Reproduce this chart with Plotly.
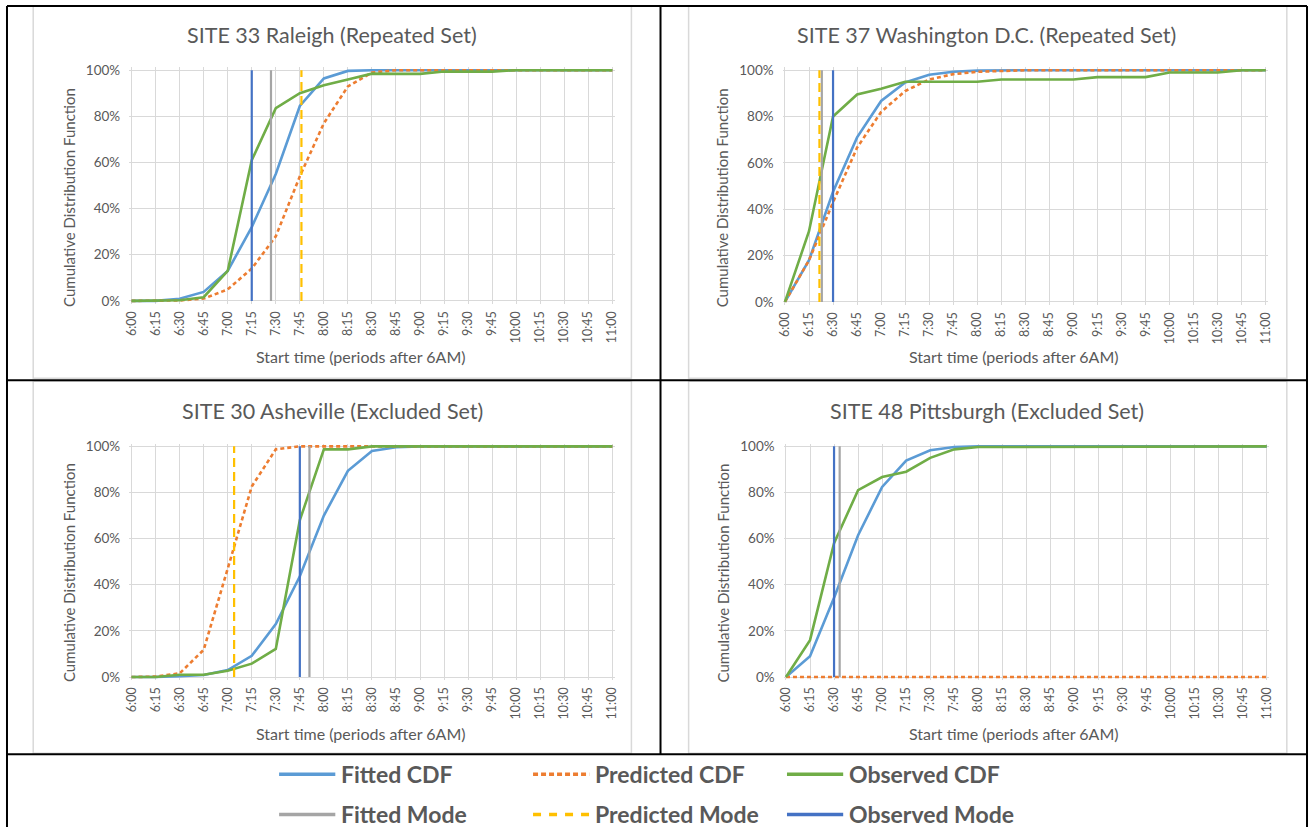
import plotly.graph_objects as go

# ---------------- data ----------------
time_labels = ["6:00", "6:15", "6:30", "6:45", "7:00", "7:15", "7:30", "7:45", "8:00", "8:15",
               "8:30", "8:45", "9:00", "9:15", "9:30", "9:45", "10:00", "10:15", "10:30", "10:45", "11:00"]
y_tick_vals = [0, 0.2, 0.4, 0.6, 0.8, 1.0]

titles = ["SITE 33 Raleigh (Repeated Set)", "SITE 37 Washington D.C. (Repeated Set)",
          "SITE 30 Asheville (Excluded Set)", "SITE 48 Pittsburgh (Excluded Set)"]

# CDF values in percent, one value per time label
raleigh_fitted = [0, 0, 0.9, 3.9, 13, 32, 55, 84.5, 96.4, 99.7, 100, 100, 100, 100, 100, 100, 100, 100, 100, 100, 100]
raleigh_predicted = [0, 0, 0.2, 1, 5, 14, 28, 54, 77, 93, 99, 100, 100, 100, 100, 100, 100, 100, 100, 100, 100]
raleigh_observed = [0, 0, 0.3, 1.6, 13, 61, 83.5, 90, 93.5, 96, 98.5, 98.4, 98.4, 99.4, 99.4, 99.4, 100, 100, 100, 100, 100]

washington_fitted = [0, 18, 47.5, 71, 86.7, 94.7, 98, 99.3, 99.8, 100, 100, 100, 100, 100, 100, 100, 100, 100, 100, 100, 100]
washington_predicted = [0, 18, 43, 66.6, 82, 91, 96, 98.3, 99.3, 99.7, 100, 100, 100, 100, 100, 100, 100, 100, 100, 100, 100]
washington_observed = [0, 30.5, 80, 89.5, 92, 95, 95, 95, 95, 96, 96, 96, 96, 97, 97, 97, 99, 99, 99, 100, 100]

asheville_fitted = [0, 0, 0.4, 0.9, 3, 9.2, 23, 43.7, 70, 89.4, 98, 99.6, 100, 100, 100, 100, 100, 100, 100, 100, 100]
asheville_predicted = [0, 0.2, 1.6, 11.8, 47, 82.6, 98.7, 100, 100, 100, 100, 100, 100, 100, 100, 100, 100, 100, 100, 100, 100]
asheville_observed = [0, 0, 1, 1, 2.7, 5.8, 12.2, 68, 98.7, 98.7, 100, 100, 100, 100, 100, 100, 100, 100, 100, 100, 100]

pittsburgh_fitted = [0, 9, 34.4, 61.5, 82.4, 93.8, 98.3, 99.7, 100, 100, 100, 100, 100, 100, 100, 100, 100, 100, 100, 100, 100]
pittsburgh_predicted = [0, 0, 0, 0, 0, 0, 0, 0, 0, 0, 0, 0, 0, 0, 0, 0, 0, 0, 0, 0, 0]
pittsburgh_observed = [0, 16, 58, 81, 86.7, 89, 95, 98.7, 99.7, 99.7, 99.7, 99.7, 99.7, 99.7, 99.7, 100, 100, 100, 100, 100, 100]

# modes, minutes after 6AM (None = not shown)
fitted_modes = [87, 23, 111, 33.5]
predicted_modes = [106, 21.5, 64, None]
observed_modes = [75, 30, 105, 30]

fitted_cdfs = [raleigh_fitted, washington_fitted, asheville_fitted, pittsburgh_fitted]
predicted_cdfs = [raleigh_predicted, washington_predicted, asheville_predicted, pittsburgh_predicted]
observed_cdfs = [raleigh_observed, washington_observed, asheville_observed, pittsburgh_observed]

series_names = ["Fitted CDF", "Predicted CDF", "Observed CDF", "Fitted Mode", "Predicted Mode", "Observed Mode"]

# ---------------- styles ----------------
W, H = 1313, 833
# the photographed page includes the browser body margin; map target window pixels to figure pixels
MARGIN = 8
KX = (W + 2 * MARGIN) / W

FONT = "Lato, 'Open Sans', sans-serif"
TXT = "#595959"
GRID = "#d9d9d9"
C_FIT, C_PRED, C_OBS = "#5B9BD5", "#ED7D31", "#70AD47"
C_FMODE, C_PMODE, C_OMODE = "#A5A5A5", "#FFC000", "#4472C4"
styles = [
    dict(color=C_FIT, width=2.6, dash="solid"),
    dict(color=C_PRED, width=2.6, dash="4px,3px"),
    dict(color=C_OBS, width=2.6, dash="solid"),
    dict(color=C_FMODE, width=2.2, dash="solid"),
    dict(color=C_PMODE, width=2.2, dash="9px,5px"),
    dict(color=C_OMODE, width=2.2, dash="solid"),
]

minutes = [int(t.split(":")[0]) * 60 + int(t.split(":")[1]) - 360 for t in time_labels]

# plot areas in window pixels: (x of 6:00, x of 11:00, y of 100%, y of 0%)
areas = [(133, 612, 71, 301), (784, 1263, 71, 302), (133, 612, 446, 676), (785, 1264, 446, 676)]
title_pos = [(333, 36), (985, 36), (333, 411), (985, 411)]
ytitle_pos = [(70, 198), (721, 198), (70, 572), (722, 572)]
xtitle_pos = [(362, 356), (1012, 356), (362, 732), (1012, 732)]
boxes = [(35, 6, 631, 378), (688, 6, 1284, 378), (35, 381, 631, 752), (688, 381, 1284, 752)]

fig = go.Figure()
layout = dict(width=W, height=H, margin=dict(l=0, r=0, t=0, b=0), paper_bgcolor="white",
              plot_bgcolor="white", showlegend=False, font=dict(family=FONT, color=TXT))
shapes, annotations = [], []

YPAD = 0.012
XPAD = 1.5


def fx(x):
    return x * KX - MARGIN


def fy(y):
    return (y - 6) / 0.985


def px(x):
    return min(max(fx(x), 1.0), W - 1.0) / W


def py(y):
    return 1 - min(max(fy(y), 1.0), H - 1.0) / H


for i in range(4):
    n = "" if i == 0 else str(i + 1)
    x0, x1, yt, yb = areas[i]
    sx = (x1 - x0) / 300.0
    sy = (yb - yt) / 1.0
    layout["xaxis" + n] = dict(
        domain=[px(x0 - XPAD * sx), px(x1 + XPAD * sx)], range=[-XPAD, 300 + XPAD], anchor="y" + n,
        tickmode="array", tickvals=minutes, ticktext=time_labels, tickangle=-90,
        tickfont=dict(size=12.5, color=TXT, family=FONT), showgrid=True, gridcolor=GRID, gridwidth=1,
        zeroline=False, showline=False, ticks="", ticklabelstandoff=4, fixedrange=True)
    layout["yaxis" + n] = dict(
        domain=[py(yb + YPAD * sy), py(yt - YPAD * sy)], range=[-YPAD, 1 + YPAD], anchor="x" + n,
        tickmode="array", tickvals=y_tick_vals, tickformat=".0%",
        tickfont=dict(size=13.5, color=TXT, family=FONT), showgrid=True, gridcolor=GRID, gridwidth=1,
        zeroline=False, showline=False, ticks="", ticklabelstandoff=8, fixedrange=True)

    xa, ya = "x" + n, "y" + n
    cdfs = [fitted_cdfs[i], predicted_cdfs[i], observed_cdfs[i]]
    for k, vals in enumerate(cdfs):
        fig.add_trace(go.Scatter(x=minutes, y=[v / 100 for v in vals], mode="lines",
                                 line=styles[k], name=series_names[k], xaxis=xa, yaxis=ya,
                                 hoverinfo="skip"))
    modes = [fitted_modes[i], predicted_modes[i], observed_modes[i]]
    for k, m in enumerate(modes):
        if m is None:
            continue
        fig.add_trace(go.Scatter(x=[m, m], y=[0, 1], mode="lines", line=styles[3 + k],
                                 name=series_names[3 + k], xaxis=xa, yaxis=ya, hoverinfo="skip"))

    tx, ty = title_pos[i]
    annotations.append(dict(text=titles[i], x=px(tx), y=py(ty), xref="paper", yref="paper",
                            showarrow=False, xanchor="center", yanchor="middle",
                            font=dict(size=21.5, color=TXT, family=FONT)))
    yx, yy = ytitle_pos[i]
    annotations.append(dict(text="Cumulative Distribution Function", x=px(yx), y=py(yy), xref="paper",
                            yref="paper", showarrow=False, textangle=-90, xanchor="center",
                            yanchor="middle", font=dict(size=15, color=TXT, family=FONT)))
    xx, xy = xtitle_pos[i]
    annotations.append(dict(text="Start time (periods after 6AM)", x=px(xx), y=py(xy), xref="paper",
                            yref="paper", showarrow=False, xanchor="center", yanchor="middle",
                            font=dict(size=16, color=TXT, family=FONT)))

    bx0, by0, bx1, by1 = boxes[i]
    shapes.append(dict(type="rect", xref="paper", yref="paper", x0=px(bx0), x1=px(bx1),
                       y0=py(by1), y1=py(by0), line=dict(color=GRID, width=1.5), layer="below"))

# table lines
black = dict(color="black", width=2)
for (a, b, c, d) in [(8, 5, 1311, 5), (8, 5, 8, 833), (1311, 5, 1311, 833), (660, 5, 660, 753),
                     (8, 380, 1311, 380), (8, 753, 1311, 753)]:
    shapes.append(dict(type="line", xref="paper", yref="paper", x0=px(a), x1=px(c), y0=py(b), y1=py(d),
                       line=black, layer="below"))

# legend (drawn manually)
leg_cols = [280, 533, 786]
leg_rows = [773, 813]
for j, name in enumerate(series_names):
    r, c = divmod(j, 3)
    lx = leg_cols[c]
    ly = leg_rows[r]
    st = styles[j]
    dash = st["dash"]
    if j == 1:
        dash = "5px,3px"
    if j == 4:
        dash = "8px,8px"
    shapes.append(dict(type="line", xref="paper", yref="paper", x0=px(lx), x1=px(lx + 56),
                       y0=py(ly), y1=py(ly), line=dict(color=st["color"], width=3.5, dash=dash)))
    annotations.append(dict(text="<b>" + name + "</b>", x=px(lx + 60), y=py(ly), xref="paper",
                            yref="paper", showarrow=False, xanchor="left", yanchor="middle",
                            font=dict(size=23, color=TXT, family=FONT)))

layout["shapes"] = shapes
layout["annotations"] = annotations
fig.update_layout(**layout)
fig.write_html("out.html")
